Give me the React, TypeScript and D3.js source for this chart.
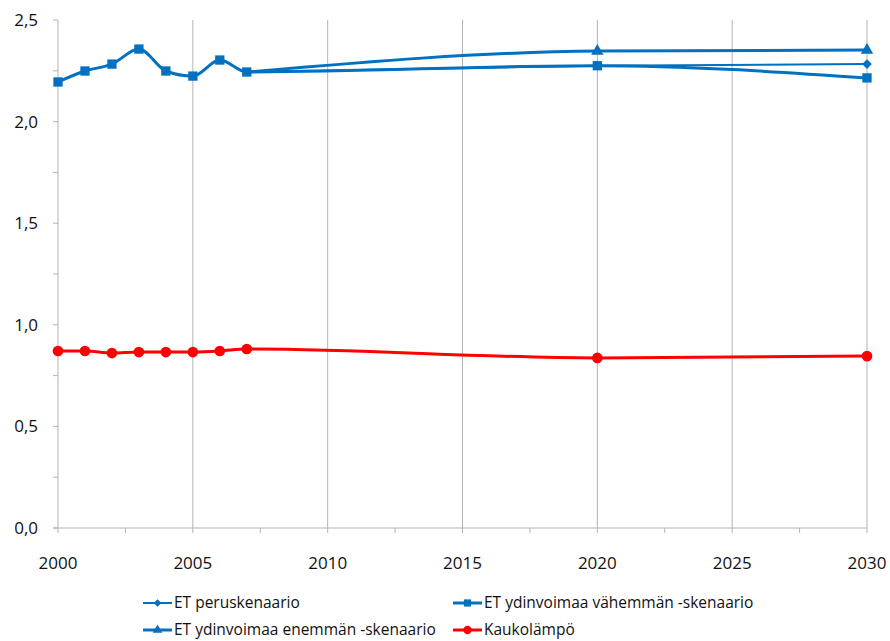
import React, { useRef, useEffect } from 'react';
import * as d3 from 'd3';

const history = [2000, 2001, 2002, 2003, 2004, 2005, 2006, 2007];
const historyValues = [2.195, 2.249, 2.283, 2.357, 2.249, 2.224, 2.303, 2.244];

const perusYears = [2007, 2020, 2030];
const perusValues = [2.244, 2.275, 2.283];

const vahemmanYears = [...history, 2020, 2030];
const vahemmanValues = [...historyValues, 2.275, 2.215];

const enemmanYears = [2007, 2020, 2030];
const enemmanValues = [2.244, 2.347, 2.352];

const kaukoYears = [...history, 2020, 2030];
const kaukoValues = [0.871, 0.871, 0.861, 0.866, 0.866, 0.866, 0.871, 0.881, 0.837, 0.846];

const xTicks = [2000, 2005, 2010, 2015, 2020, 2025, 2030];
const yTicks = [0, 0.5, 1, 1.5, 2, 2.5];

const BLUE = '#0070C0';
const RED = '#FF0000';

interface Series {
  name: string;
  years: number[];
  values: number[];
  color: string;
  width: number;
  marker: 'diamond' | 'square' | 'triangle' | 'circle';
  markerStart?: number;
}

const series: Series[] = [
  { name: 'ET ydinvoimaa enemmän -skenaario', years: enemmanYears, values: enemmanValues, color: BLUE, width: 3, marker: 'triangle', markerStart: 1 },
  { name: 'ET peruskenaario', years: perusYears, values: perusValues, color: BLUE, width: 2, marker: 'diamond', markerStart: 1 },
  { name: 'ET ydinvoimaa vähemmän -skenaario', years: vahemmanYears, values: vahemmanValues, color: BLUE, width: 3, marker: 'square' },
  { name: 'Kaukolämpö', years: kaukoYears, values: kaukoValues, color: RED, width: 3, marker: 'circle' },
];

const legendOrder = [
  'ET peruskenaario',
  'ET ydinvoimaa vähemmän -skenaario',
  'ET ydinvoimaa enemmän -skenaario',
  'Kaukolämpö',
];

const symbolFor = (m: string) => {
  if (m === 'diamond') return d3.symbolDiamond2;
  if (m === 'square') return d3.symbolSquare2;
  if (m === 'triangle') return d3.symbolTriangle2;
  return d3.symbolCircle;
};
const sizeFor = (m: string) => {
  if (m === 'diamond') return 60;
  if (m === 'square') return 110;
  if (m === 'triangle') return 110;
  return 90;
};

const App: React.FC = () => {
  const svgRef = useRef<SVGSVGElement>(null);
  const width = 890;
  const height = 641;

  useEffect(() => {
    if (!svgRef.current) return;
    const svg = d3.select(svgRef.current);
    svg.selectAll('*').remove();

    const x = d3.scaleLinear().domain([2000, 2030]).range([58, 867]);
    const y = d3.scaleLinear().domain([0, 2.5]).range([528, 20]);
    const font = 'Open Sans, sans-serif';
    const gridColor = '#b3b3b3';

    // vertical gridlines
    svg.append('g')
      .selectAll('line')
      .data(xTicks)
      .enter()
      .append('line')
      .attr('x1', d => x(d))
      .attr('x2', d => x(d))
      .attr('y1', y(2.5))
      .attr('y2', y(0) + 5)
      .attr('stroke', gridColor)
      .attr('stroke-width', 1);

    // minor x ticks
    svg.append('g')
      .selectAll('line')
      .data(d3.range(2002.5, 2030, 5))
      .enter()
      .append('line')
      .attr('x1', d => x(d))
      .attr('x2', d => x(d))
      .attr('y1', y(0))
      .attr('y2', y(0) + 5)
      .attr('stroke', gridColor);

    // y ticks (major + minor)
    svg.append('g')
      .selectAll('line')
      .data(d3.range(0, 2.51, 0.25))
      .enter()
      .append('line')
      .attr('x1', x(2000) - 5)
      .attr('x2', x(2000))
      .attr('y1', d => y(d))
      .attr('y2', d => y(d))
      .attr('stroke', gridColor);

    // x axis line
    svg.append('line')
      .attr('x1', x(2000) - 5)
      .attr('x2', x(2030))
      .attr('y1', y(0))
      .attr('y2', y(0))
      .attr('stroke', gridColor);

    // tick labels
    svg.append('g')
      .selectAll('text')
      .data(yTicks)
      .enter()
      .append('text')
      .attr('x', 38)
      .attr('y', d => y(d))
      .attr('dy', '0.35em')
      .attr('text-anchor', 'end')
      .style('font-family', font)
      .style('font-size', '17px')
      .style('fill', '#111')
      .text(d => d3.format('.1f')(d).replace('.', ','));

    svg.append('g')
      .selectAll('text')
      .data(xTicks)
      .enter()
      .append('text')
      .attr('x', d => x(d))
      .attr('y', 563)
      .attr('dy', '0.35em')
      .attr('text-anchor', 'middle')
      .style('font-family', font)
      .style('font-size', '17px')
      .style('fill', '#111')
      .text(d => String(d));

    const line = d3.line<[number, number]>()
      .x(d => x(d[0]))
      .y(d => y(d[1]))
      .curve(d3.curveMonotoneX);

    series.forEach(s => {
      const pts: [number, number][] = s.years.map((yr, i) => [yr, s.values[i]]);
      svg.append('path')
        .attr('d', line(pts) || '')
        .attr('fill', 'none')
        .attr('stroke', s.color)
        .attr('stroke-width', s.width)
        .attr('stroke-linejoin', 'round');
    });

    series.forEach(s => {
      const pts: [number, number][] = s.years.map((yr, i) => [yr, s.values[i]]);
      const sym = d3.symbol().type(symbolFor(s.marker)).size(sizeFor(s.marker));
      svg.append('g')
        .selectAll('path')
        .data(pts.slice(s.markerStart || 0))
        .enter()
        .append('path')
        .attr('transform', d => `translate(${x(d[0])},${y(d[1])})`)
        .attr('d', sym() || '')
        .attr('fill', s.color);
    });

    // legend
    const legendPos = [
      [143, 603], [453, 603], [143, 630], [453, 630],
    ];
    legendOrder.forEach((name, i) => {
      const s = series.find(d => d.name === name)!;
      const [lx, ly] = legendPos[i];
      const g = svg.append('g').attr('transform', `translate(${lx},${ly})`);
      g.append('line')
        .attr('x1', 0)
        .attr('x2', 29)
        .attr('stroke', s.color)
        .attr('stroke-width', s.width);
      const sym = d3.symbol().type(symbolFor(s.marker)).size(sizeFor(s.marker) * 0.6);
      g.append('path')
        .attr('transform', 'translate(14.5,0)')
        .attr('d', sym() || '')
        .attr('fill', s.color);
      g.append('text')
        .attr('x', 31)
        .attr('dy', '0.35em')
        .style('font-family', font)
        .style('font-size', '15.5px')
        .style('fill', '#111')
        .text(name);
    });
  }, []);

  return (
    <svg
      ref={svgRef}
      width={width}
      height={height}
      style={{ position: 'absolute', left: 0, top: 0, background: '#fff' }}
    />
  );
};

export default App;
